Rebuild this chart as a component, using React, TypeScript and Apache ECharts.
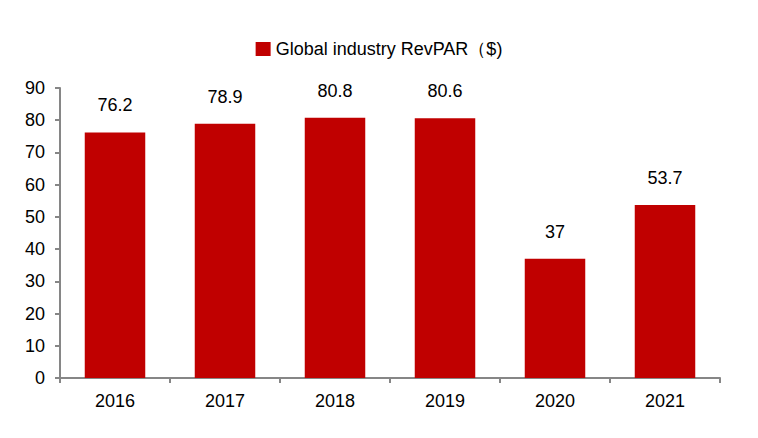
import React, { useEffect, useRef } from "react";
import * as echarts from "echarts";

const categories = ["2016", "2017", "2018", "2019", "2020", "2021"];
const revpar = [76.2, 78.9, 80.8, 80.6, 37, 53.7];
const seriesName = "Global industry RevPAR（$)";

export default function App() {
  const ref = useRef<HTMLDivElement>(null);
  useEffect(() => {
    if (!ref.current) return;
    const chart = echarts.init(ref.current, null, { renderer: "svg" });
    const font = "Liberation Sans, Arial, sans-serif";
    chart.setOption({
      animation: false,
      backgroundColor: "#ffffff",
      textStyle: { fontFamily: font },
      legend: {
        top: 35,
        left: "center",
        itemWidth: 15,
        itemHeight: 14,
        itemGap: 4,
        icon: "rect",
        textStyle: { fontSize: 18, color: "#000", fontFamily: font },
        data: [seriesName],
      },
      grid: { left: 60, right: 38, top: 88, bottom: 60, containLabel: false },
      xAxis: {
        type: "category",
        data: categories,
        axisLine: { lineStyle: { color: "#868686", width: 2 } },
        axisTick: { show: true, length: 5, lineStyle: { color: "#868686", width: 2 } },
        axisLabel: { fontSize: 18, color: "#000", margin: 14, fontFamily: font },
      },
      yAxis: {
        type: "value",
        min: 0,
        max: 90,
        interval: 10,
        splitLine: { show: false },
        axisLine: { show: true, lineStyle: { color: "#868686", width: 2 } },
        axisTick: { show: true, length: 5, lineStyle: { color: "#868686", width: 2 } },
        axisLabel: { fontSize: 18, color: "#000", margin: 15, fontFamily: font },
      },
      series: [
        {
          name: seriesName,
          type: "bar",
          data: revpar,
          barWidth: "55%",
          itemStyle: { color: "#C00000" },
          label: {
            show: true,
            position: "top",
            distance: 18,
            fontSize: 18,
            color: "#000",
            fontFamily: font,
          },
        },
      ],
    });
    return () => chart.dispose();
  }, []);
  return (
    <div
      ref={ref}
      style={{ position: "fixed", left: 0, top: 0, width: 758, height: 438 }}
    />
  );
}
